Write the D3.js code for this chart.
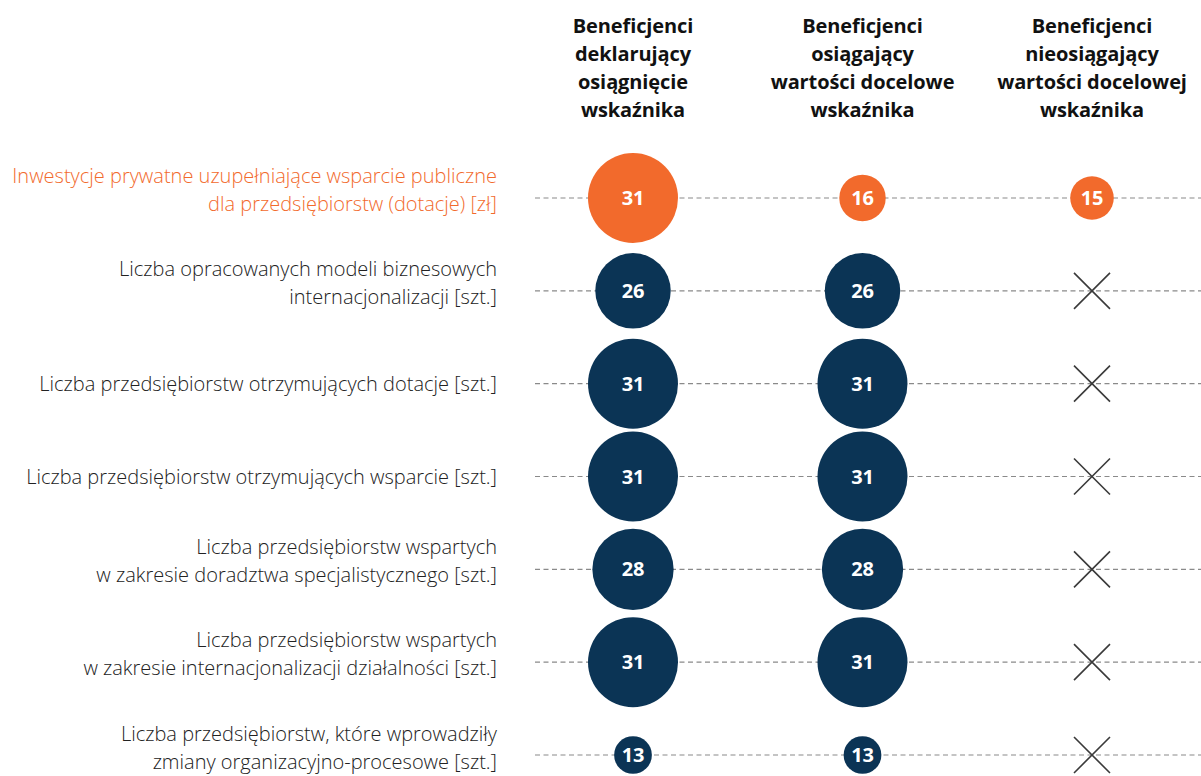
<!DOCTYPE html>
<html><head><meta charset="utf-8">
<script src="https://cdn.jsdelivr.net/npm/d3@7"></script>
<style>
html,body{margin:0;padding:0;background:#fff;}
svg{display:block;}
</style></head>
<body>
<svg id="chart" width="1201" height="776"></svg>
<script>
const columns = [
  ["Beneficjenci","deklarujący","osiągnięcie","wskaźnika"],
  ["Beneficjenci","osiągający","wartości docelowe","wskaźnika"],
  ["Beneficjenci","nieosiągający","wartości docelowej","wskaźnika"]
];
const rowLabels = [
  ["Inwestycje prywatne uzupełniające wsparcie publiczne","dla przedsiębiorstw (dotacje) [zł]"],
  ["Liczba opracowanych modeli biznesowych","internacjonalizacji [szt.]"],
  ["Liczba przedsiębiorstw otrzymujących dotacje [szt.]"],
  ["Liczba przedsiębiorstw otrzymujących wsparcie [szt.]"],
  ["Liczba przedsiębiorstw wspartych","w zakresie doradztwa specjalistycznego [szt.]"],
  ["Liczba przedsiębiorstw wspartych","w zakresie internacjonalizacji działalności [szt.]"],
  ["Liczba przedsiębiorstw, które wprowadziły","zmiany organizacyjno-procesowe [szt.]"]
];
const declared = [31, 26, 31, 31, 28, 31, 13];
const achieved = [16, 26, 31, 31, 28, 31, 13];
const notAchieved = [15, null, null, null, null, null, null];
const highlightRow = 0;

const ORANGE = "#F26A2C", NAVY = "#0B3455";
const svg = d3.select("#chart");
const font = "'Open Sans', sans-serif";

const y = d3.scalePoint().domain(d3.range(rowLabels.length)).range([198, 755]);
const x = d3.scalePoint().domain([0,1,2]).range([633, 1092]);
const r = d3.scaleLinear().domain([0, 31]).range([0, 45]);

// headers
columns.forEach((lines, c) => {
  const t = svg.append("text")
    .attr("x", x(c)).attr("y", 33)
    .attr("text-anchor", "middle")
    .attr("font-family", font).attr("font-weight", 700)
    .attr("font-size", 20).attr("letter-spacing", -0.1).attr("fill", "#111");
  lines.forEach((l, i) => t.append("tspan").attr("x", x(c)).attr("dy", i ? 28 : 0).text(l));
});

// dashed lines
svg.append("g").selectAll("line").data(rowLabels).join("line")
  .attr("x1", 535).attr("x2", 1201)
  .attr("y1", (d,i) => y(i)).attr("y2", (d,i) => y(i))
  .attr("stroke", "#8a8a8a").attr("stroke-width", 1.2).attr("stroke-dasharray", "5,3.5");

// row labels
rowLabels.forEach((lines, i) => {
  const t = svg.append("text")
    .attr("text-anchor", "end")
    .attr("font-family", font).attr("font-weight", 300)
    .attr("font-size", 20).attr("letter-spacing", 0)
    .attr("fill", i === highlightRow ? ORANGE : "#222");
  const last = i === rowLabels.length - 1;
  const offs = lines.length === 1 ? [7] : (last ? [-14, 14] : [-15, 13]);
  lines.forEach((l, j) => t.append("tspan").attr("x", 497).attr("y", y(i) + offs[j]).text(l));
});

// bubbles
const series = [declared, achieved, notAchieved];
series.forEach((vals, c) => {
  vals.forEach((v, i) => {
    const g = svg.append("g").attr("transform", `translate(${x(c)},${y(i)})`);
    if (v == null) {
      const s = 18;
      g.append("path").attr("d", `M${-s},${-s}L${s},${s}M${s},${-s}L${-s},${s}`)
        .attr("stroke", "#3a3a3a").attr("stroke-width", 1.6).attr("fill", "none");
    } else {
      g.append("circle").attr("r", r(v)).attr("fill", i === highlightRow ? ORANGE : NAVY);
      g.append("text").attr("text-anchor", "middle").attr("dy", 7)
        .attr("font-family", font).attr("font-weight", 700).attr("font-size", 20)
        .attr("letter-spacing", -0.3)
        .attr("fill", "#fff").text(v);
    }
  });
});
</script>
</body></html>
